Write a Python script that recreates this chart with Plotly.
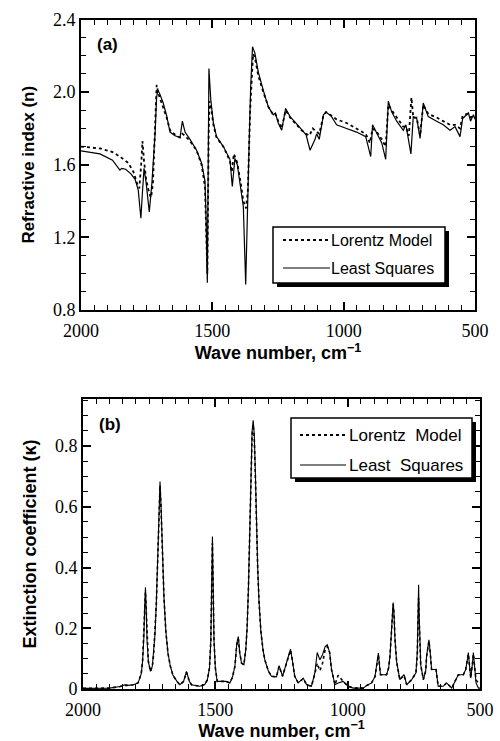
import plotly.graph_objects as go

# ---------------- Panel (a): refractive index n ----------------
wn_a_ls = [2000, 1928, 1880, 1852, 1845, 1830, 1810, 1794, 1782, 1772, 1766, 1760, 1752, 1740,
           1730, 1718, 1712, 1707, 1700, 1687, 1674, 1661, 1642, 1623, 1614, 1604, 1585, 1560,
           1541, 1528, 1524, 1519, 1513, 1506, 1496, 1484, 1458, 1433, 1424, 1414, 1405, 1392,
           1382, 1373, 1367, 1359, 1354, 1347, 1338, 1325, 1306, 1287, 1268, 1260, 1249, 1236,
           1221, 1204, 1179, 1160, 1143, 1128, 1109, 1103, 1093, 1077, 1067, 1046, 1027, 989,
           951, 916, 897, 890, 874, 855, 840, 830, 817, 798, 773, 763, 744, 735, 722, 709, 697,
           678, 646, 621, 595, 576, 557, 547, 525, 517, 506, 500]
n_ls = [1.676, 1.66, 1.625, 1.57, 1.58, 1.575, 1.55, 1.52, 1.46, 1.305, 1.45, 1.58, 1.50, 1.34,
        1.50, 1.77, 1.975, 2.01, 1.99, 1.94, 1.87, 1.78, 1.76, 1.75, 1.84, 1.78, 1.74, 1.68,
        1.61, 1.51, 1.31, 0.95, 2.13, 1.96, 1.83, 1.755, 1.70, 1.63, 1.48, 1.635, 1.60, 1.48,
        1.37, 0.94, 1.37, 1.77, 2.03, 2.25, 2.215, 2.11, 2.01, 1.92, 1.875, 1.885, 1.83, 1.79,
        1.91, 1.865, 1.825, 1.79, 1.765, 1.68, 1.74, 1.77, 1.74, 1.875, 1.89, 1.865, 1.82, 1.80,
        1.78, 1.755, 1.645, 1.82, 1.775, 1.72, 1.63, 1.95, 1.89, 1.84, 1.79, 1.82, 1.66, 1.865,
        1.855, 1.745, 1.94, 1.865, 1.84, 1.82, 1.79, 1.81, 1.755, 1.855, 1.885, 1.84, 1.875, 1.85]

wn_a_lm = [2000, 1928, 1880, 1852, 1820, 1800, 1785, 1778, 1770, 1766, 1760, 1752, 1740, 1733,
           1726, 1718, 1712, 1705, 1690, 1674, 1661, 1642, 1623, 1614, 1604, 1585, 1560, 1541,
           1528, 1522, 1519, 1514, 1511, 1506, 1496, 1484, 1458, 1433, 1426, 1418, 1405, 1392,
           1382, 1372, 1365, 1356, 1345, 1338, 1325, 1306, 1287, 1268, 1260, 1249, 1236, 1221,
           1204, 1179, 1160, 1143, 1130, 1118, 1109, 1100, 1093, 1077, 1067, 1046, 1027, 989,
           951, 916, 900, 890, 874, 855, 840, 830, 817, 798, 773, 763, 752, 742, 735, 722, 709,
           697, 678, 646, 621, 595, 576, 557, 547, 530, 517, 506, 500]
n_lm = [1.70, 1.69, 1.67, 1.645, 1.61, 1.56, 1.49, 1.47, 1.62, 1.73, 1.62, 1.52, 1.44, 1.42,
        1.50, 1.80, 2.04, 1.99, 1.93, 1.86, 1.79, 1.765, 1.75, 1.77, 1.76, 1.73, 1.68, 1.60,
        1.48, 1.20, 1.00, 1.75, 1.95, 1.93, 1.82, 1.75, 1.70, 1.62, 1.56, 1.66, 1.61, 1.50,
        1.40, 1.36, 1.45, 1.90, 2.21, 2.19, 2.09, 2.00, 1.92, 1.875, 1.88, 1.84, 1.80, 1.90,
        1.86, 1.82, 1.79, 1.77, 1.76, 1.80, 1.79, 1.78, 1.77, 1.87, 1.89, 1.87, 1.85, 1.83,
        1.80, 1.77, 1.72, 1.80, 1.78, 1.74, 1.70, 1.93, 1.90, 1.86, 1.81, 1.81, 1.76, 1.97,
        1.86, 1.86, 1.76, 1.93, 1.88, 1.86, 1.84, 1.82, 1.82, 1.80, 1.87, 1.88, 1.86, 1.87, 1.86]

# ---------------- Panel (b): extinction coefficient k ----------------
wn_b = [2000, 1900, 1860, 1842, 1830, 1810, 1792, 1780, 1775, 1770, 1767, 1764, 1761, 1758, 1753,
        1745, 1738, 1733, 1728, 1723, 1718, 1713, 1709, 1705, 1700, 1694, 1687, 1679, 1670, 1660,
        1645, 1634, 1620, 1609, 1598, 1590, 1559, 1540, 1530, 1522, 1517, 1514, 1511, 1508, 1505,
        1500, 1493, 1471, 1460, 1445, 1435, 1426, 1419, 1413, 1408, 1401, 1392, 1385, 1380, 1375,
        1370, 1365, 1361, 1357, 1353, 1349, 1345, 1340, 1335, 1328, 1320, 1313, 1300, 1288, 1269,
        1259, 1246, 1231, 1222, 1216, 1210, 1200, 1187, 1168, 1155, 1137, 1124, 1115, 1105, 1095,
        1085, 1077, 1068, 1061, 1048, 1036, 1017, 998, 979, 941, 929, 910, 897, 888, 884, 880,
        876, 853, 845, 840, 835, 831, 828, 825, 821, 815, 808, 803, 787, 777, 758, 742, 737, 734,
        732, 730, 727, 724, 714, 705, 702, 697, 693, 688, 683, 666, 658, 639, 626, 607, 595, 582,
        563, 554, 547, 544, 540, 535, 529, 525, 520, 515, 506, 500]
k_ls = [0.002, 0.003, 0.008, 0.014, 0.012, 0.014, 0.02, 0.05, 0.09, 0.17, 0.27, 0.335, 0.26, 0.16,
        0.09, 0.058, 0.075, 0.118, 0.18, 0.28, 0.42, 0.60, 0.683, 0.60, 0.45, 0.30, 0.19, 0.118,
        0.075, 0.045, 0.025, 0.014, 0.025, 0.058, 0.025, 0.014, 0.009, 0.015, 0.03, 0.07, 0.16,
        0.33, 0.502, 0.33, 0.16, 0.07, 0.025, 0.025, 0.025, 0.02, 0.04, 0.075, 0.15, 0.173, 0.12,
        0.085, 0.08, 0.13, 0.20, 0.33, 0.53, 0.74, 0.85, 0.885, 0.84, 0.72, 0.557, 0.40, 0.29,
        0.19, 0.13, 0.096, 0.06, 0.042, 0.04, 0.077, 0.042, 0.085, 0.118, 0.131, 0.10, 0.042,
        0.02, 0.036, 0.014, 0.009, 0.053, 0.12, 0.096, 0.113, 0.14, 0.146, 0.12, 0.064, 0.014,
        0.02, 0.025, 0.009, 0.003, 0.003, 0.011, 0.02, 0.04, 0.09, 0.118, 0.08, 0.047, 0.047, 0.07,
        0.11, 0.18, 0.26, 0.285, 0.25, 0.16, 0.09, 0.05, 0.031, 0.047, 0.014, 0.031, 0.053, 0.12,
        0.25, 0.343, 0.25, 0.12, 0.08, 0.031, 0.06, 0.107, 0.15, 0.162, 0.12, 0.064, 0.064, 0.009,
        0.009, 0.02, 0.003, 0.025, 0.047, 0.047, 0.064, 0.10, 0.12, 0.08, 0.036, 0.08, 0.12, 0.07,
        0.02, 0.003, 0.003]
k_lm = [0.002, 0.003, 0.008, 0.012, 0.012, 0.014, 0.02, 0.05, 0.09, 0.17, 0.26, 0.32, 0.25, 0.16,
        0.09, 0.058, 0.075, 0.115, 0.18, 0.28, 0.42, 0.59, 0.67, 0.59, 0.45, 0.30, 0.19, 0.118,
        0.075, 0.045, 0.025, 0.014, 0.025, 0.055, 0.025, 0.014, 0.009, 0.015, 0.03, 0.07, 0.16,
        0.32, 0.48, 0.32, 0.16, 0.07, 0.025, 0.025, 0.025, 0.02, 0.04, 0.075, 0.145, 0.165, 0.12,
        0.085, 0.08, 0.13, 0.20, 0.33, 0.52, 0.73, 0.84, 0.87, 0.83, 0.71, 0.55, 0.40, 0.29,
        0.19, 0.13, 0.096, 0.06, 0.042, 0.04, 0.075, 0.042, 0.085, 0.115, 0.128, 0.10, 0.042,
        0.02, 0.034, 0.014, 0.009, 0.05, 0.085, 0.06, 0.085, 0.13, 0.14, 0.12, 0.064, 0.014,
        0.045, 0.025, 0.009, 0.003, 0.003, 0.011, 0.02, 0.04, 0.085, 0.112, 0.08, 0.047, 0.047,
        0.07, 0.11, 0.18, 0.25, 0.28, 0.25, 0.16, 0.09, 0.05, 0.031, 0.045, 0.014, 0.031, 0.053,
        0.11, 0.23, 0.30, 0.23, 0.11, 0.08, 0.031, 0.06, 0.105, 0.145, 0.158, 0.12, 0.064, 0.064,
        0.009, 0.009, 0.02, 0.003, 0.025, 0.047, 0.047, 0.064, 0.10, 0.115, 0.08, 0.036, 0.08,
        0.115, 0.07, 0.03, 0.02, 0.02]

W, H = 500, 741
ML, MR, MT, MB = 81, 20, 19, 52
PW, PH = W - ML - MR, H - MT - MB


def px(x):
    return (x - ML) / PW


def py(y):
    return (H - MB - y) / PH


fig = go.Figure()
fig.add_trace(go.Scatter(x=wn_a_lm, y=n_lm, mode="lines", name="Lorentz Model",
                         line=dict(color="black", width=1.8, dash="dot"), xaxis="x", yaxis="y"))
fig.add_trace(go.Scatter(x=wn_a_ls, y=n_ls, mode="lines", name="Least Squares",
                         line=dict(color="black", width=1.2), xaxis="x", yaxis="y"))
fig.add_trace(go.Scatter(x=wn_b, y=k_lm, mode="lines", name="Lorentz Model",
                         line=dict(color="black", width=1.6, dash="dot"), xaxis="x2", yaxis="y2"))
fig.add_trace(go.Scatter(x=wn_b, y=k_ls, mode="lines", name="Least Squares",
                         line=dict(color="black", width=1.1), xaxis="x2", yaxis="y2"))

serif = "Liberation Serif, Times New Roman, serif"
sans = "Liberation Sans, Arial, sans-serif"
common_x = dict(range=[2000, 500], tickmode="linear", tick0=500, dtick=500, tickformat="d",
                ticks="inside", ticklen=8, tickwidth=1.5, tickcolor="black",
                ticklabelstandoff=3,
                minor=dict(dtick=50, tick0=500, ticks="inside", ticklen=5, tickwidth=1.2,
                           tickcolor="black", showgrid=False),
                showline=True, linewidth=2, linecolor="black", mirror="allticks",
                showgrid=False, zeroline=False, automargin=False,
                tickfont=dict(family=serif, size=18, color="black"))
common_y = dict(ticks="inside", ticklen=8, tickwidth=1.5, tickcolor="black",
                showline=True, linewidth=2, linecolor="black", mirror="allticks",
                showgrid=False, zeroline=False, automargin=False,
                tickfont=dict(family=serif, size=18, color="black"))

xtitle = dict(text="<b>Wave number, cm<sup>\u22121</sup></b>",
              font=dict(family=sans, size=18, color="black"), standoff=4)

fig.update_layout(
    width=W, height=H,
    margin=dict(l=ML, r=MR, t=MT, b=MB, pad=0),
    paper_bgcolor="white", plot_bgcolor="white",
    showlegend=False,
    xaxis=dict(domain=[0, px(475)], anchor="y", title=xtitle, **common_x),
    yaxis=dict(domain=[py(310), py(19.5)], anchor="x", range=[0.8, 2.4],
               tickmode="linear", tick0=0.8, dtick=0.4, tickformat=".1f",
               minor=dict(dtick=0.1, tick0=0.8, ticks="inside", ticklen=5, tickwidth=1.2,
                          tickcolor="black", showgrid=False),
               title=dict(text="<b>Refractive index (n)</b>",
                          font=dict(family=sans, size=17, color="black"), standoff=14),
               **common_y),
    xaxis2=dict(domain=[px(83), 1], anchor="y2", title=xtitle, **common_x),
    yaxis2=dict(domain=[0, py(399)], anchor="x2", range=[0, 0.955],
                tickmode="linear", tick0=0, dtick=0.2,
                minor=dict(dtick=0.05, tick0=0, ticks="inside", ticklen=5, tickwidth=1.2,
                           tickcolor="black", showgrid=False),
                title=dict(text="<b>Extinction coefficient (\u03ba)</b>",
                           font=dict(family=sans, size=18, color="black"), standoff=14),
                **common_y),
)

shapes = []
annotations = []


def add_legend(x0, y0, x1, y1, sx0, sx1, ya, yb, tx, labels, size):
    shapes.append(dict(type="rect", xref="paper", yref="paper",
                       x0=px(x0 + 4), x1=px(x1 + 4), y0=py(y1 + 4), y1=py(y0 + 4),
                       fillcolor="black", line=dict(width=0)))
    shapes.append(dict(type="rect", xref="paper", yref="paper",
                       x0=px(x0), x1=px(x1), y0=py(y1), y1=py(y0),
                       fillcolor="white", line=dict(color="black", width=1.5)))
    shapes.append(dict(type="line", xref="paper", yref="paper",
                       x0=px(sx0), x1=px(sx1), y0=py(ya), y1=py(ya),
                       line=dict(color="black", width=1.8, dash="dot")))
    shapes.append(dict(type="line", xref="paper", yref="paper",
                       x0=px(sx0), x1=px(sx1), y0=py(yb), y1=py(yb),
                       line=dict(color="black", width=1.2)))
    for lab, yy in zip(labels, [ya, yb]):
        annotations.append(dict(xref="paper", yref="paper", x=px(tx), y=py(yy),
                                xanchor="left", yanchor="middle", showarrow=False,
                                text=lab, font=dict(family=sans, size=size, color="black")))


add_legend(273, 227, 445, 283, 283, 330, 240, 268, 329,
           ["Lorentz Model", "Least Squares"], 16)
add_legend(291, 418, 472, 478, 300, 346, 435, 465, 347,
           ["Lorentz\u00a0 Model", "Least\u00a0 Squares"], 17)

annotations.append(dict(xref="paper", yref="paper", x=px(95), y=py(45), xanchor="left",
                        yanchor="middle", showarrow=False, text="<b>(a)</b>",
                        font=dict(family=sans, size=17, color="black")))
annotations.append(dict(xref="paper", yref="paper", x=px(97), y=py(425), xanchor="left",
                        yanchor="middle", showarrow=False, text="<b>(b)</b>",
                        font=dict(family=sans, size=17, color="black")))

fig.update_layout(shapes=shapes, annotations=annotations)
fig.write_html("out.html", config={"displayModeBar": False},
               post_script="document.body.style.margin='0px';")
